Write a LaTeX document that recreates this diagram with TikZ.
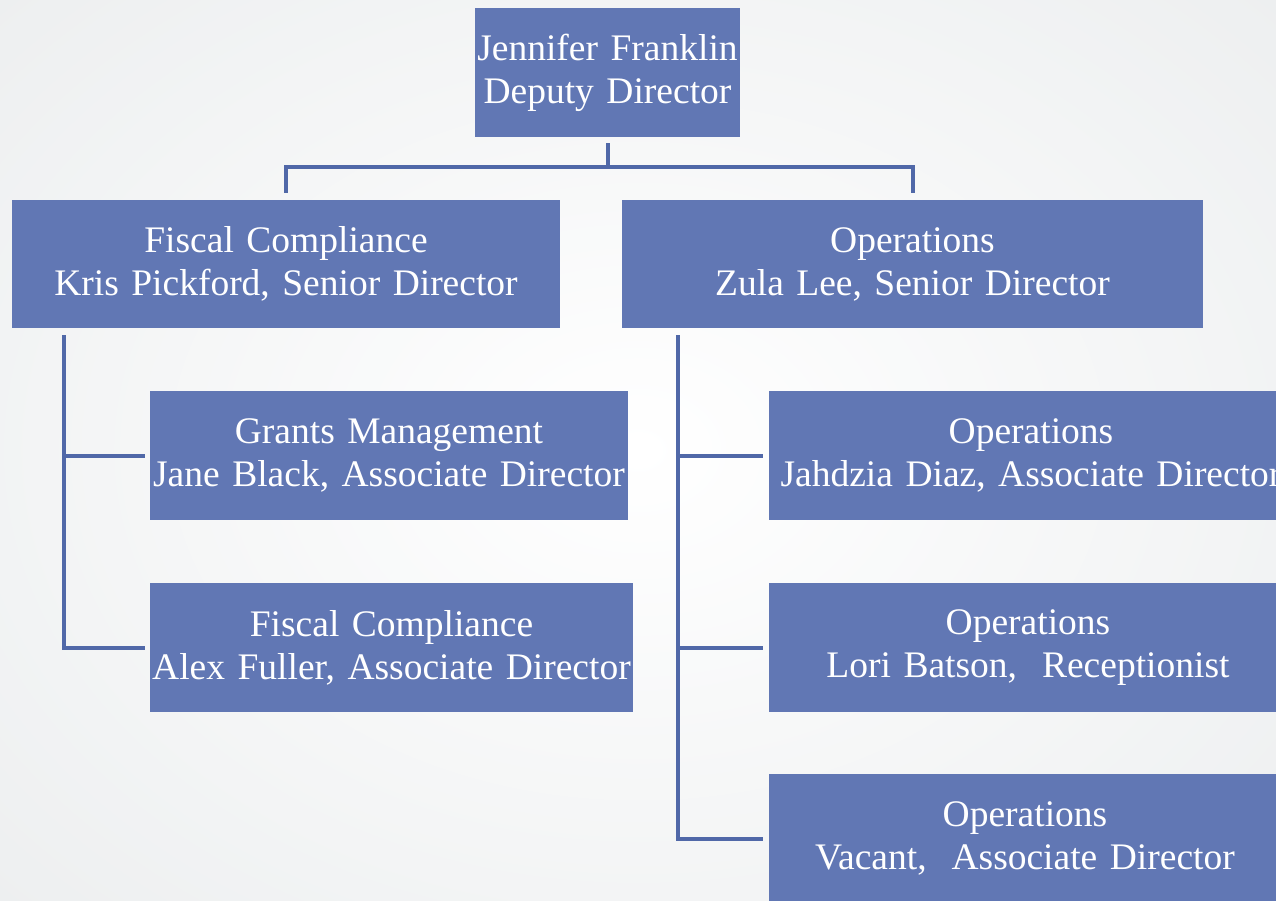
\documentclass[tikz,border=0pt]{standalone}
\usepackage{fontspec}
\setmainfont{Liberation Serif}
\usetikzlibrary{calc}
\definecolor{boxblue}{HTML}{6177B4}
\definecolor{lineblue}{HTML}{5068A8}
\definecolor{paper}{HTML}{ECEEEF}
\begin{document}
\begin{tikzpicture}[x=1pt,y=-1pt,
  orgbox/.style={fill=boxblue, draw=none, text=white, inner sep=0pt,
    align=center, font=\fontsize{37.5}{43}\selectfont},
  conn/.style={draw=lineblue, line width=4pt}]
  % page and background
  \useasboundingbox (0,0) rectangle (1276,900);
  \clip (0,0) rectangle (1276,900);
  \shade[inner color=white, outer color=paper] (-300,-250) rectangle (1576,1150);

  % deputy director
  \node[orgbox, minimum width=265pt, text width=265pt, minimum height=129pt]
    (top) at (607.5,72.5) {Jennifer Franklin\\Deputy Director};

  % senior directors
  \node[orgbox, minimum width=548pt, text width=548pt, minimum height=128pt]
    (fc) at (286,264) {Fiscal Compliance\\Kris Pickford, Senior Director};
  \node[orgbox, minimum width=581pt, text width=581pt, minimum height=128pt]
    (op) at (912.5,264) {Operations\\Zula Lee, Senior Director};

  % fiscal compliance staff
  \node[orgbox, minimum width=478pt, text width=478pt, minimum height=129pt]
    (gm) at (389,455.5) {Grants Management\\Jane Black, Associate Director};
  \node[orgbox, minimum width=483pt, text width=483pt, minimum height=129pt]
    (af) at (391.5,647.5) {Fiscal Compliance\\Alex Fuller, Associate Director};

  % operations staff
  \node[orgbox, minimum width=524pt, text width=524pt, minimum height=129pt]
    (jd) at (1031,455.5) {Operations\\Jahdzia Diaz, Associate Director};
  \node[orgbox, minimum width=518pt, text width=518pt, minimum height=129pt]
    (lb) at (1028,647.5) {Operations\\Lori Batson,\ \ Receptionist};
  \node[orgbox, minimum width=512pt, text width=512pt, minimum height=129pt]
    (va) at (1025,838.5) {Operations\\Vacant,\ \ Associate Director};

  % top-level connectors
  \coordinate (bus) at ($(top.south)+(0,30)$);
  \draw[conn] ($(top.south)+(0,6)$) -- (bus);
  \draw[conn] (bus) -| ($(fc.north)+(0,-7)$);
  \draw[conn] (bus) -| ($(op.north)+(0,-7)$);

  % fiscal compliance spine
  \coordinate (ls) at ($(fc.south west)+(52,7)$);
  \draw[conn] (ls) |- ($(gm.west)+(-5,0)$);
  \draw[conn] (ls) |- ($(af.west)+(-5,0)$);

  % operations spine
  \coordinate (rs) at ($(op.south west)+(56,7)$);
  \draw[conn] (rs) |- ($(jd.west)+(-6,0)$);
  \draw[conn] (rs) |- ($(lb.west)+(-6,0)$);
  \draw[conn] (rs) |- ($(va.west)+(-6,0)$);
\end{tikzpicture}
\end{document}
